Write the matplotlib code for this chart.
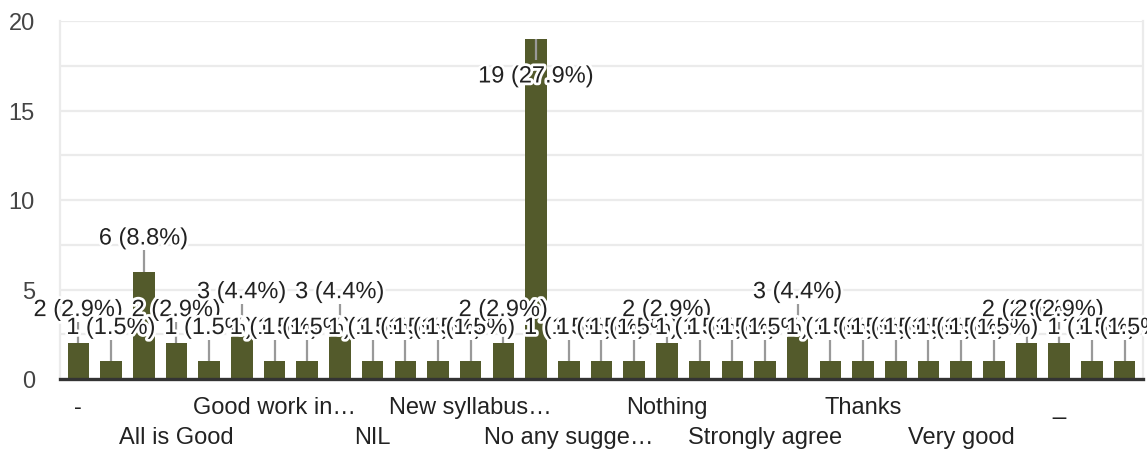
import matplotlib.pyplot as plt
import matplotlib.patheffects as pe

# category names (only every third one is printed on the axis, the rest are unknown)
categories = ["-", "", "", "All is Good", "", "", "Good work in…", "", "",
              "NIL", "", "", "New syllabus…", "", "", "No any sugge…", "", "",
              "Nothing", "", "", "Strongly agree", "", "", "Thanks", "", "",
              "Very good", "", "", "_", "", ""]
counts = [2, 1, 6, 2, 1, 3, 1, 1, 3, 1, 1, 1, 1, 2, 19, 1, 1, 1, 2, 1, 1,
          1, 3, 1, 1, 1, 1, 1, 1, 2, 2, 1, 1]
y_ticks = [0, 5, 10, 15, 20]

BAR_COLOR = "#535a2b"
total = sum(counts)

plt.rcParams['font.family'] = ['Liberation Sans', 'DejaVu Sans']

fig = plt.figure(figsize=(11.47, 4.52), dpi=100)
ax = fig.add_axes([60 / 1147, 72 / 452, 1083 / 1147, 358 / 452])

x = list(range(len(counts)))
ax.bar(x, counts, width=0.66, color=BAR_COLOR, zorder=2)

ax.set_xlim(-0.56, len(counts) - 0.44)
ax.set_ylim(0, 20)

# grid every 2.5
for g in [i * 2.5 for i in range(1, 9)]:
    ax.axhline(g, color="#ebebeb", lw=1.6, zorder=0)

ax.set_yticks(y_ticks)
ax.set_yticklabels([str(t) for t in y_ticks], fontsize=17, color="#444444")
ax.tick_params(axis='y', length=0, pad=18)
ax.set_xticks([])

for side in ["left", "right"]:
    ax.spines[side].set_color("#ebebeb")
    ax.spines[side].set_linewidth(1.6)
ax.spines["top"].set_visible(False)
ax.spines["bottom"].set_color("#333333")
ax.spines["bottom"].set_linewidth(2.4)
ax.spines["bottom"].set_zorder(3)

# x labels, alternating rows
shown = [i for i, c in enumerate(categories) if c]
for k, i in enumerate(shown):
    yrow = -0.078 if k % 2 == 0 else -0.162
    ax.text(i, yrow, categories[i], transform=ax.get_xaxis_transform(),
            ha="center", va="center", fontsize=17, color="#222222")

# data labels with leader lines
halo = [pe.withStroke(linewidth=4, foreground="white")]
for i, v in enumerate(counts):
    label = f"{v} ({v / total * 100:.1f}%)"
    if v + 2.5 > 20:
        ax.vlines(i, v - 1.2, v, color="#999999", lw=1.6, zorder=3)
        ty = v - 2.1
    else:
        ax.vlines(i, v, v + 1.2, color="#999999", lw=1.6, zorder=3)
        ty = v + 1.85
    ax.text(i, ty, label, ha="center", va="center", fontsize=17,
            color="#222222", path_effects=halo, zorder=4, clip_on=False)

fig.savefig("out.png", dpi=100)
